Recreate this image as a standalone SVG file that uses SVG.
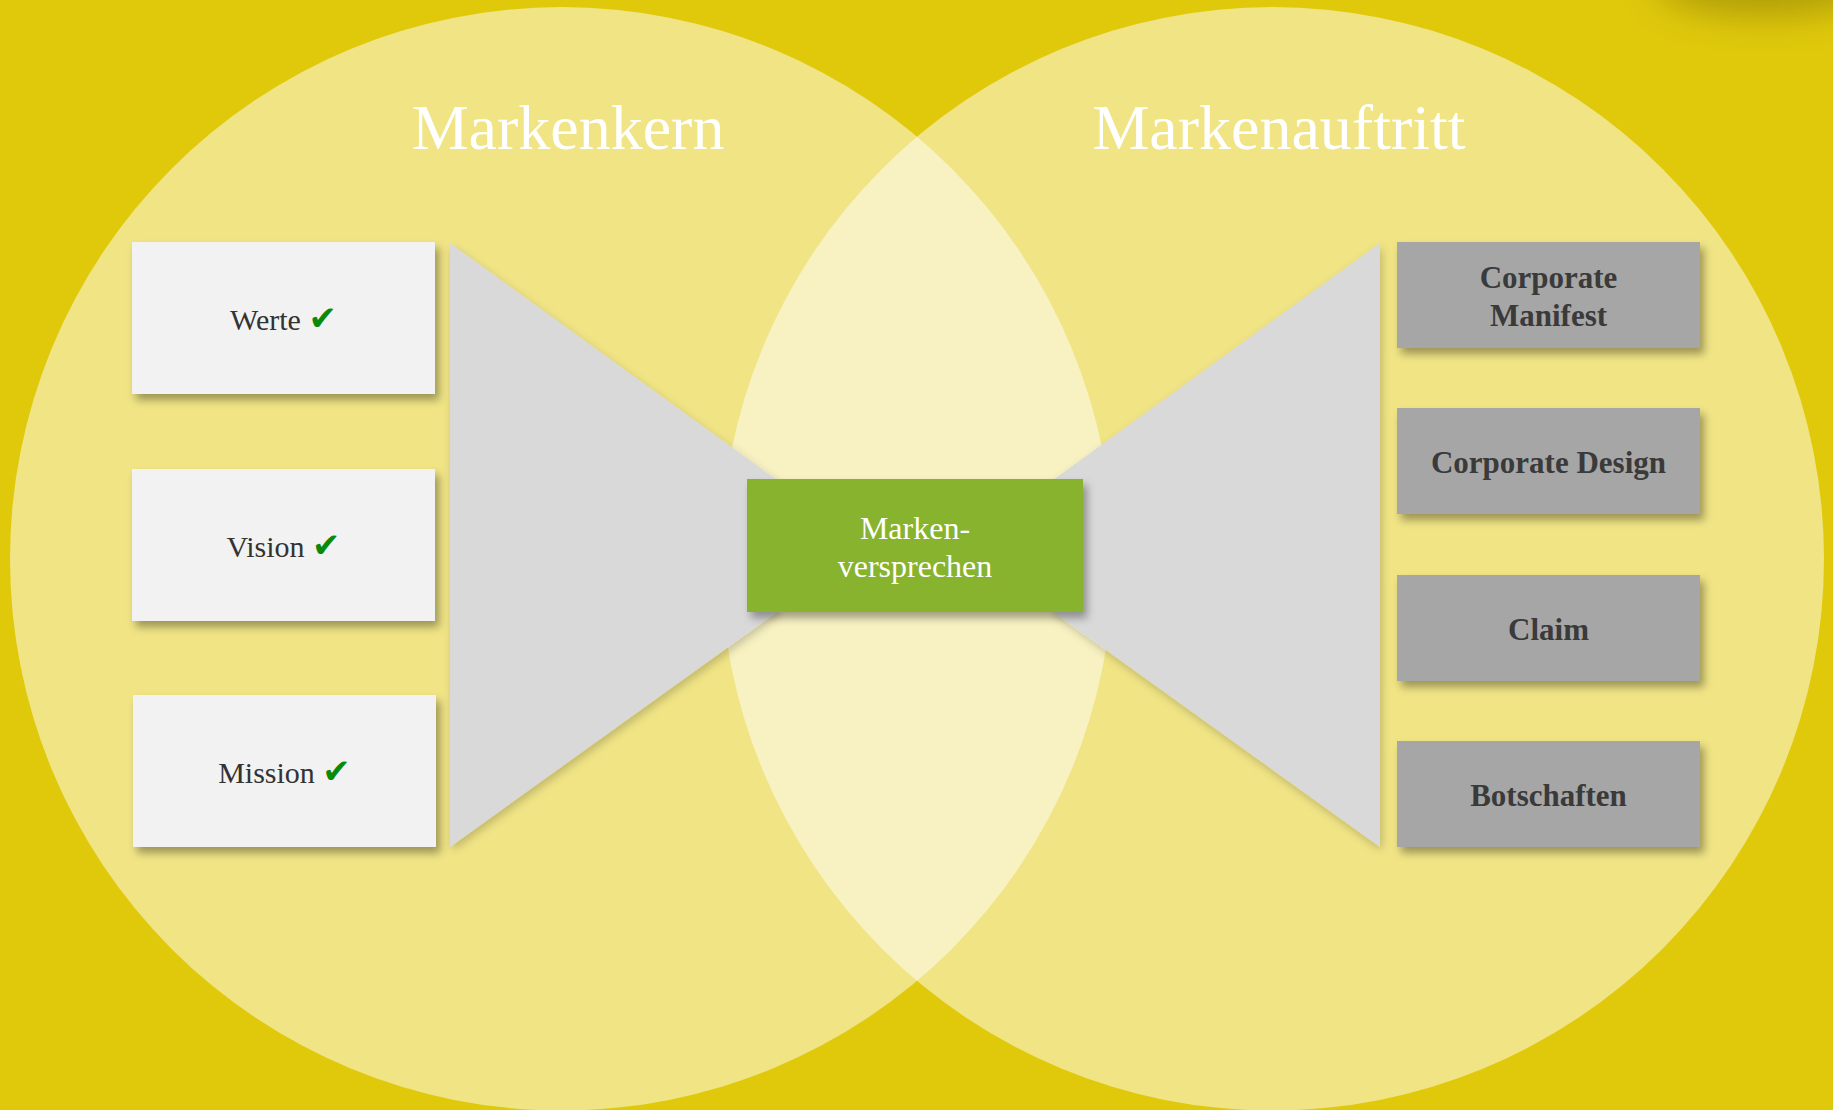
<svg xmlns="http://www.w3.org/2000/svg" width="1833" height="1110" viewBox="0 0 1833 1110">
  <defs>
    <style>
      .title { font-family: "Liberation Serif", "Times New Roman", serif; font-size: 64px; fill: #ffffff; text-anchor: middle; }
      .lbox { fill: #f2f2f2; filter: url(#shadow); }
      .rbox { fill: #a6a6a6; filter: url(#shadow); }
      .trap { fill: #d9d9d9; filter: url(#shadowSoft); }
      .ltext { font-family: "Liberation Serif", "Times New Roman", serif; font-size: 30px; fill: #333333; text-anchor: middle; }
      .check { font-family: "DejaVu Sans", sans-serif; font-size: 34px; fill: #0a8a0a; }
      .rtext { font-family: "Liberation Serif", "Times New Roman", serif; font-size: 31px; font-weight: bold; fill: #3a3a3a; text-anchor: middle; }
      .gtext { font-family: "Liberation Serif", "Times New Roman", serif; font-size: 32px; fill: #ffffff; text-anchor: middle; }
      .circle { fill: #ffffff; fill-opacity: 0.5; }
    </style>
    <filter id="shadow" x="-10%" y="-10%" width="125%" height="130%">
      <feDropShadow dx="4" dy="6" stdDeviation="4" flood-color="#000000" flood-opacity="0.35"/>
    </filter>
    <filter id="shadowSoft" x="-10%" y="-10%" width="125%" height="130%">
      <feDropShadow dx="2" dy="4" stdDeviation="4" flood-color="#000000" flood-opacity="0.2"/>
    </filter>
    <filter id="blur" x="-50%" y="-50%" width="200%" height="200%">
      <feGaussianBlur stdDeviation="18"/>
    </filter>
  </defs>

  <rect x="0" y="0" width="1833" height="1110" fill="#e0c90b"/>
  <ellipse cx="1765" cy="-18" rx="110" ry="34" fill="#000000" fill-opacity="0.22" filter="url(#blur)"/>

  <g id="circles">
    <circle id="circle-left" class="circle" cx="561.7" cy="558.8" r="551.7"/>
    <circle id="circle-right" class="circle" cx="1272.3" cy="558.8" r="551.7"/>
  </g>

  <g id="titles">
    <text id="title-markenkern" class="title" x="568" y="149">Markenkern</text>
    <text id="title-markenauftritt" class="title" x="1279" y="149">Markenauftritt</text>
  </g>

  <g id="connectors">
    <polygon id="funnel-left" class="trap" points="450,243 777,480 777,612 450,847"/>
    <polygon id="funnel-right" class="trap" points="1380,243 1053,480 1053,612 1380,847"/>
  </g>

  <g id="node-werte">
    <rect class="lbox" x="132" y="242" width="303" height="152"/>
    <text class="ltext" x="283.5" y="330">Werte <tspan class="check">✔</tspan></text>
  </g>
  <g id="node-vision">
    <rect class="lbox" x="132" y="469" width="303" height="152"/>
    <text class="ltext" x="283.5" y="557">Vision <tspan class="check">✔</tspan></text>
  </g>
  <g id="node-mission">
    <rect class="lbox" x="133" y="695" width="303" height="152"/>
    <text class="ltext" x="284.5" y="783">Mission <tspan class="check">✔</tspan></text>
  </g>

  <g id="node-markenversprechen">
    <rect x="747" y="479" width="336" height="133" fill="#87b32f" filter="url(#shadow)"/>
    <text class="gtext" x="915" y="539">Marken-</text>
    <text class="gtext" x="915" y="577">versprechen</text>
  </g>

  <g id="node-corporate-manifest">
    <rect class="rbox" x="1397" y="242" width="303" height="106"/>
    <text class="rtext" x="1548.5" y="288">Corporate</text>
    <text class="rtext" x="1548.5" y="326">Manifest</text>
  </g>
  <g id="node-corporate-design">
    <rect class="rbox" x="1397" y="408" width="303" height="106"/>
    <text class="rtext" x="1548.5" y="473">Corporate Design</text>
  </g>
  <g id="node-claim">
    <rect class="rbox" x="1397" y="575" width="303" height="106"/>
    <text class="rtext" x="1548.5" y="640">Claim</text>
  </g>
  <g id="node-botschaften">
    <rect class="rbox" x="1397" y="741" width="303" height="106"/>
    <text class="rtext" x="1548.5" y="806">Botschaften</text>
  </g>
</svg>
